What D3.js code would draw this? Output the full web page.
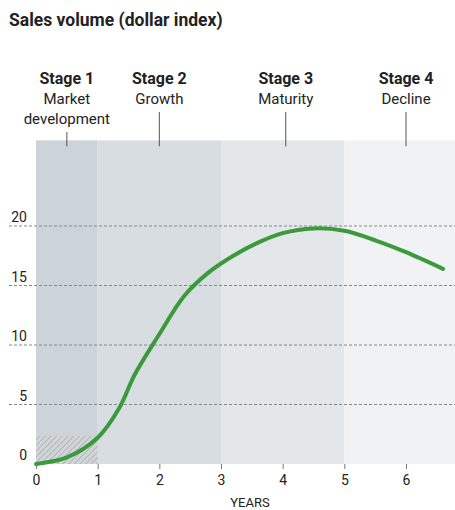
<!DOCTYPE html>
<html>
<head>
<meta charset="utf-8">
<script src="https://cdn.jsdelivr.net/npm/d3@7"></script>
<style>
  body { margin: 0; background: #fff; }
  svg { display: block; }
  text { font-family: "Roboto", sans-serif; fill: #222; }
</style>
</head>
<body>
<svg id="chart" width="455" height="510"></svg>
<script>
// stages
var stageNames = ["Stage 1", "Stage 2", "Stage 3", "Stage 4"];
var stageSubs = [["Market", "development"], ["Growth"], ["Maturity"], ["Decline"]];
var stageStart = [0, 1, 3, 5];
var stageEnd = [1, 3, 5, 6.8];
var stageLabelAt = [0.5, 2, 4.05, 6];
var stageColors = ["#ccd4da", "#d8dde1", "#e3e7ea", "#f1f2f4"];

// sales curve
var years = [0, 0.5, 1, 1.35, 1.6, 2, 2.4, 2.8, 3.2, 3.6, 4, 4.5, 5, 5.5, 6, 6.6];
var sales = [0, 0.55, 2.2, 4.7, 7.5, 10.9, 14.1, 16.1, 17.5, 18.6, 19.4, 19.8, 19.6, 18.8, 17.8, 16.4];

var xTicks = [0, 1, 2, 3, 4, 5, 6];
var yTicks = [0, 5, 10, 15, 20];
var yMax = 27.2;
var hatchTop = 2.35;

var svg = d3.select("#chart");

var x = d3.scaleLinear().domain([0, 6]).range([36, 406]);
var y = d3.scaleLinear().domain([0, 20]).range([464, 226]);

// hatch pattern
var pat = svg.append("defs").append("pattern")
  .attr("id", "hatch")
  .attr("patternUnits", "userSpaceOnUse")
  .attr("width", 4).attr("height", 4)
  .attr("patternTransform", "rotate(45)");
pat.append("rect").attr("width", 4).attr("height", 4).attr("fill", "#d3d6d9");
pat.append("line").attr("x1", 0).attr("y1", 0).attr("x2", 0).attr("y2", 4)
  .attr("stroke", "#a2a6aa").attr("stroke-width", 1.4);

// title
svg.append("text")
  .attr("x", 9).attr("y", 26)
  .attr("font-size", "17.5px")
  .attr("font-weight", "bold")
  .text("Sales volume (dollar index)");

// stage backgrounds
svg.selectAll(".stage")
  .data(stageNames)
  .enter()
  .append("rect")
  .attr("class", "stage")
  .attr("x", function(d, i){ return x(stageStart[i]); })
  .attr("y", y(yMax))
  .attr("width", function(d, i){ return x(stageEnd[i]) - x(stageStart[i]); })
  .attr("height", y(0) - y(yMax))
  .attr("fill", function(d, i){ return stageColors[i]; });

// hatched area under first year
svg.append("rect")
  .attr("x", x(0))
  .attr("y", y(hatchTop))
  .attr("width", x(1) - x(0))
  .attr("height", y(0) - y(hatchTop))
  .attr("fill", "url(#hatch)");

// gridlines
svg.selectAll(".grid")
  .data(yTicks.filter(function(d){ return d > 0; }))
  .enter()
  .append("line")
  .attr("class", "grid")
  .attr("x1", 9).attr("x2", 455)
  .attr("y1", function(d){ return y(d); })
  .attr("y2", function(d){ return y(d); })
  .attr("stroke", "#85888b")
  .attr("stroke-width", 1)
  .attr("stroke-dasharray", "3,2");

// y labels
svg.selectAll(".ylab")
  .data(yTicks)
  .enter()
  .append("text")
  .attr("class", "ylab")
  .attr("x", 27)
  .attr("y", function(d){ return y(d) - 4; })
  .attr("text-anchor", "end")
  .attr("font-size", "14px")
  .text(function(d){ return d; });

// x axis
var xAxis = d3.axisBottom(x).tickValues(xTicks).tickSize(5).tickPadding(6).tickFormat(d3.format("d"));
var gx = svg.append("g")
  .attr("transform", "translate(0," + y(0) + ")")
  .call(xAxis);
gx.select(".domain").remove();
gx.selectAll(".tick line").attr("stroke", "#777");
gx.selectAll(".tick text")
  .attr("font-size", "14px")
  .style("font-family", "Roboto, sans-serif")
  .attr("fill", "#222");

svg.append("text")
  .attr("x", 250).attr("y", 507)
  .attr("text-anchor", "middle")
  .attr("font-size", "13px")
  .text("YEARS");

// sales line
var line = d3.line()
  .x(function(d, i){ return x(years[i]); })
  .y(function(d){ return y(d); })
  .curve(d3.curveCatmullRom.alpha(0.5));

svg.append("path")
  .datum(sales)
  .attr("d", line)
  .attr("fill", "none")
  .attr("stroke", "#3a9a3c")
  .attr("stroke-width", 4)
  .attr("stroke-linecap", "round");

// stage labels
var labels = svg.selectAll(".slab")
  .data(stageNames)
  .enter()
  .append("g")
  .attr("class", "slab")
  .attr("transform", function(d, i){ return "translate(" + x(stageLabelAt[i]) + ",0)"; });

labels.append("text")
  .attr("y", 84)
  .attr("text-anchor", "middle")
  .attr("font-size", "16px")
  .attr("font-weight", "bold")
  .text(function(d){ return d; });

labels.each(function(d, i){
  var g = d3.select(this);
  stageSubs[i].forEach(function(s, j){
    g.append("text")
      .attr("y", 104 + j * 20)
      .attr("text-anchor", "middle")
      .attr("font-size", "15px")
      .text(s);
  });
  g.append("line")
    .attr("x1", 0).attr("x2", 0)
    .attr("y1", 112 + (stageSubs[i].length - 1) * 20)
    .attr("y2", y(yMax) + 6)
    .attr("stroke", "#555")
    .attr("stroke-width", 1);
});
</script>
</body>
</html>
